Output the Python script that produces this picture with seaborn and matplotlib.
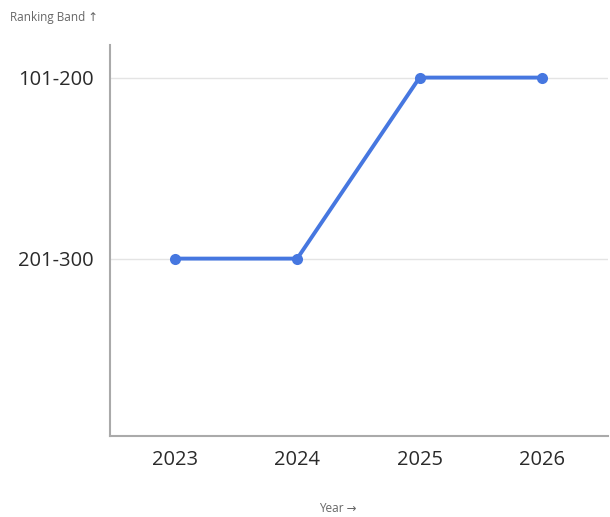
import matplotlib
matplotlib.use("Agg")
import matplotlib.pyplot as plt
import seaborn as sns
import pandas as pd

years = ["2023", "2024", "2025", "2026"]
band_labels = ["101-200", "201-300"]
bands = ["201-300", "201-300", "101-200", "101-200"]

band_pos = {b: i + 1 for i, b in enumerate(band_labels)}
df = pd.DataFrame({"Year": years, "Band": [band_pos[b] for b in bands]})

sns.set_style("white")
plt.rcParams["font.family"] = ["Open Sans", "DejaVu Sans"]

fig = plt.figure(figsize=(6.1, 5.17), dpi=100)
ax = fig.add_axes([110 / 610, 1 - 436 / 517, 498 / 610, 391 / 517])

sns.lineplot(data=df, x="Year", y="Band", ax=ax, color="#4677e0", linewidth=2.8,
             marker="o", markersize=8, markeredgewidth=0, sort=False)

ax.set_ylim(2.98, 0.82)
ax.set_xlim(-0.53, 3.54)
ax.set_yticks([band_pos[b] for b in band_labels])
ax.set_yticklabels(band_labels)
ax.yaxis.grid(True, color="#e4e4e4", linewidth=1)
ax.xaxis.grid(False)
ax.tick_params(axis="both", length=0, labelsize=14.5, colors="#2a2a2a", pad=12)
ax.tick_params(axis="x", pad=10)
for s in ["top", "right"]:
    ax.spines[s].set_visible(False)
for s in ["left", "bottom"]:
    ax.spines[s].set_color("#aaaaaa")
    ax.spines[s].set_linewidth(1.5)
ax.set_xlabel("")
ax.set_ylabel("")

fig.text(10 / 610, 1 - 18 / 517, "Ranking Band \u2191", fontsize=8.5, color="#666666",
         ha="left", va="center")
fig.text(338 / 610, 1 - 509 / 517, "Year \u2192", fontsize=8.5, color="#666666",
         ha="center", va="center")

fig.savefig("out.png", dpi=100)
